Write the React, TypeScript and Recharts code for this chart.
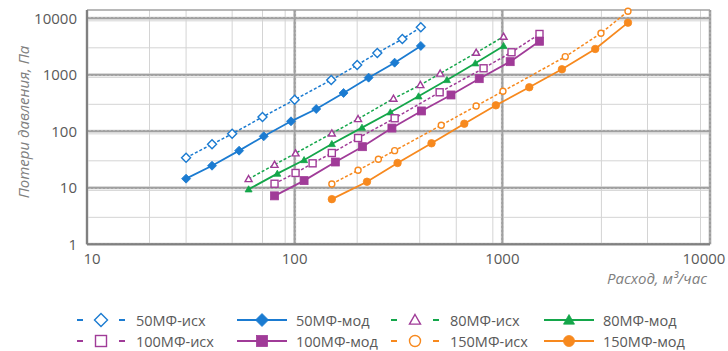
import React from "react";
import { CartesianGrid, Line, LineChart, XAxis, YAxis } from "recharts";

// flow, m3/h  /  pressure loss, Pa
const flow50isx = [30, 40, 50, 70, 100, 150, 200, 250, 330, 405];
const loss50isx = [34, 59, 90, 179, 362, 809, 1490, 2430, 4300, 6930];
const flow50mod = [30, 40, 54, 71, 96, 127, 172, 227, 303, 405];
const loss50mod = [14.5, 24.6, 45.4, 81.6, 150, 248, 476, 889, 1637, 3236];

const flow80isx = [60, 80, 101, 151, 202, 299, 403, 502, 748, 1014];
const loss80isx = [14.3, 25.6, 40.8, 92, 165, 378, 660, 1054, 2460, 4725];
const flow80mod = [60, 82.5, 111, 151, 211, 289, 395, 541, 741, 1014];
const loss80mod = [9.4, 17.8, 31, 59.6, 116, 217, 416, 809, 1598, 3236];

const flow100isx = [80, 101, 122, 151, 202, 303, 499, 812, 1107, 1510];
const loss100isx = [11.8, 18.3, 27.1, 41.3, 76, 170, 490, 1303, 2502, 5272];
const flow100mod = [80, 111, 157, 212, 294, 408, 566, 774, 1091, 1510];
const loss100mod = [7.2, 13.4, 28.6, 53.4, 114, 229, 439, 853, 1706, 3917];

const flow150isx = [151, 202, 253, 303, 508, 748, 1007, 2009, 2985, 4027];
const loss150isx = [11.7, 20.4, 31.9, 45.4, 128, 280, 511, 2091, 5430, 13300];
const flow150mod = [151, 223, 313, 456, 656, 931, 1348, 1936, 2801, 4027];
const loss150mod = [6.3, 12.8, 27.5, 61.3, 136, 288, 601, 1251, 2862, 8360];

// axes
const xTicks = [10, 100, 1000, 10000];
const yTicks = [1, 10, 100, 1000, 10000];
const xMinor = [20, 30, 40, 50, 60, 70, 80, 90, 200, 300, 400, 500, 600, 700, 800, 900, 2000, 3000, 4000, 5000, 6000, 7000, 8000, 9000];
const yMinor = [2, 3, 4, 5, 6, 7, 8, 9, 20, 30, 40, 50, 60, 70, 80, 90, 200, 300, 400, 500, 600, 700, 800, 900, 2000, 3000, 4000, 5000, 6000, 7000, 8000, 9000];

const BLUE = "#1b7bd1";
const GREEN = "#14a64a";
const PURPLE = "#a03b98";
const ORANGE = "#f7891e";
const FONT = "'Open Sans', 'Noto Sans', sans-serif";

type Shape = "diamond" | "triangle" | "square" | "circle";

const pairs = (xs: number[], ys: number[]) => xs.map((x, i) => ({ x, y: ys[i] }));

const series = [
  { name: "50МФ-исх", data: pairs(flow50isx, loss50isx), line: BLUE, mark: BLUE, shape: "diamond" as Shape, filled: false, dashed: true, size: 9 },
  { name: "50МФ-мод", data: pairs(flow50mod, loss50mod), line: BLUE, mark: BLUE, shape: "diamond" as Shape, filled: true, dashed: false, size: 9 },
  { name: "80МФ-исх", data: pairs(flow80isx, loss80isx), line: GREEN, mark: PURPLE, shape: "triangle" as Shape, filled: false, dashed: true, size: 7 },
  { name: "80МФ-мод", data: pairs(flow80mod, loss80mod), line: GREEN, mark: GREEN, shape: "triangle" as Shape, filled: true, dashed: false, size: 7 },
  { name: "100МФ-исх", data: pairs(flow100isx, loss100isx), line: PURPLE, mark: PURPLE, shape: "square" as Shape, filled: false, dashed: true, size: 7 },
  { name: "100МФ-мод", data: pairs(flow100mod, loss100mod), line: PURPLE, mark: PURPLE, shape: "square" as Shape, filled: true, dashed: false, size: 8 },
  { name: "150МФ-исх", data: pairs(flow150isx, loss150isx), line: ORANGE, mark: ORANGE, shape: "circle" as Shape, filled: false, dashed: true, size: 6 },
  { name: "150МФ-мод", data: pairs(flow150mod, loss150mod), line: ORANGE, mark: ORANGE, shape: "circle" as Shape, filled: true, dashed: false, size: 7.5 },
];

function Marker({ cx, cy, shape, color, filled, size }: { cx: number; cy: number; shape: Shape; color: string; filled: boolean; size: number }) {
  const h = size / 2;
  const fill = filled ? color : "#fff";
  const sw = filled ? 0.8 : 1.4;
  if (shape === "diamond")
    return <polygon points={`${cx},${cy - h} ${cx + h},${cy} ${cx},${cy + h} ${cx - h},${cy}`} fill={fill} stroke={color} strokeWidth={sw} />;
  if (shape === "triangle")
    return <polygon points={`${cx},${cy - h} ${cx + h},${cy + h * 0.75} ${cx - h},${cy + h * 0.75}`} fill={fill} stroke={color} strokeWidth={sw} />;
  if (shape === "square") return <rect x={cx - h} y={cy - h} width={size} height={size} fill={fill} stroke={color} strokeWidth={sw} />;
  return <circle cx={cx} cy={cy} r={h} fill={fill} stroke={color} strokeWidth={sw} />;
}

// x tick labels: first and last nudged inward like the original
function XTick({ x, y, payload }: any) {
  const v = payload.value;
  const dx = v === 10 ? 5 : v === 10000 ? -4 : 0;
  return (
    <text x={x + dx} y={y} dy="0.71em" textAnchor="middle" fill="#595959" fontSize={15} fontFamily={FONT}>
      {v}
    </text>
  );
}

// legend columns (left edge of icon), two rows
const legendCols = [77, 237, 391, 544];
const legendRows = [320, 341];

function LegendBox() {
  return (
    <>
      {series.map((s, i) => {
        const left = legendCols[i % 4];
        const top = legendRows[Math.floor(i / 4)];
        return (
          <div key={s.name} style={{ position: "absolute", left, top: top - 10, height: 20, display: "flex", alignItems: "center" }}>
            <svg width={54} height={20}>
              {s.dashed ? (
                <line x1={0} y1={10} x2={48} y2={10} stroke={s.line} strokeWidth={2} strokeDasharray="6 36" />
              ) : (
                <line x1={0} y1={10} x2={50} y2={10} stroke={s.line} strokeWidth={2.2} />
              )}
              <Marker cx={s.dashed ? 24 : 25} cy={10} shape={s.shape} color={s.mark} filled={s.filled} size={s.shape === "diamond" ? 13 : 11} />
            </svg>
            <span style={{ marginLeft: 5, fontFamily: FONT, fontSize: 14.5, color: "#595959", whiteSpace: "nowrap" }}>{s.name}</span>
          </div>
        );
      })}
    </>
  );
}

export default function App() {
  return (
    <div style={{ position: "absolute", left: 0, top: 0, width: 728, height: 351, background: "#fff" }}>
      <LineChart width={728} height={351} margin={{ top: 10, right: 18, bottom: 66.7, left: 0 }} style={{ fontFamily: FONT }}>
        <CartesianGrid horizontalValues={yMinor} verticalValues={xMinor} stroke="#d4d4d4" strokeWidth={1} />
        <CartesianGrid horizontalValues={yTicks} verticalValues={[]} stroke="#cccccc" strokeWidth={3} />
        <CartesianGrid horizontalValues={yTicks} verticalValues={[]} stroke="#808080" strokeWidth={1.5} strokeDasharray="2 2" />
        <CartesianGrid horizontalValues={[]} verticalValues={xTicks} stroke="#a0a0a0" strokeWidth={1.5} />
        <XAxis
          dataKey="x"
          type="number"
          scale="log"
          domain={[10, 10000]}
          ticks={xTicks}
          allowDuplicatedCategory={false}
          height={40}
          tickSize={0}
          tickMargin={9}
          tick={<XTick />}
          axisLine={{ stroke: "#808080", strokeWidth: 2 }}
          label={(p: any) => (
            <text x={p.viewBox.x + p.viewBox.width - 3} y={284} textAnchor="end" fill="#7f7f7f" fontSize={15} fontStyle="italic" fontFamily={FONT}>
              Расход, м³/час
            </text>
          )}
        />
        <YAxis
          type="number"
          scale="log"
          domain={[1, 14000]}
          ticks={yTicks}
          width={87}
          tickSize={0}
          tickMargin={10}
          tick={{ fill: "#595959", fontSize: 15, fontFamily: FONT }}
          axisLine={{ stroke: "#808080", strokeWidth: 2 }}
          label={() => (
            <text transform="rotate(-90)" x={-122} y={29} textAnchor="middle" fill="#7f7f7f" fontSize={15} fontStyle="italic" fontFamily={FONT}>
              Потери давления, Па
            </text>
          )}
        />
        {series.map((s) => (
          <Line
            key={s.name}
            data={s.data}
            dataKey="y"
            name={s.name}
            type="linear"
            stroke={s.line}
            strokeWidth={s.dashed ? 1.5 : 1.8}
            strokeDasharray={s.dashed ? "3 2" : undefined}
            isAnimationActive={false}
            dot={(p: any) => <Marker key={p.index} cx={p.cx} cy={p.cy} shape={s.shape} color={s.mark} filled={s.filled} size={s.size} />}
            activeDot={false}
          />
        ))}
      </LineChart>
      <LegendBox />
    </div>
  );
}
